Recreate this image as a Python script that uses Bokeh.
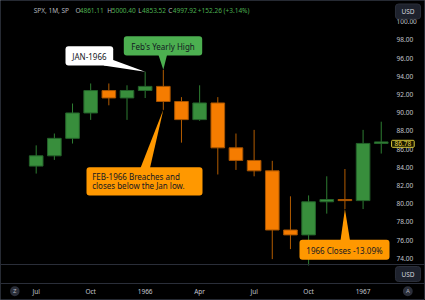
from bokeh.plotting import figure
from bokeh.models import FixedTicker, PrintfTickFormatter, Label, Span, Range1d
from bokeh.core.properties import value
from bokeh.embed import file_html
from bokeh.resources import INLINE

# ---------------- data (S&P 500 monthly, Jul 1965 - Feb 1967) ----------------
months = ["Jul 1965", "Aug 1965", "Sep 1965", "Oct 1965", "Nov 1965", "Dec 1965",
          "Jan 1966", "Feb 1966", "Mar 1966", "Apr 1966", "May 1966", "Jun 1966",
          "Jul 1966", "Aug 1966", "Sep 1966", "Oct 1966", "Nov 1966", "Dec 1966",
          "Jan 1967", "Feb 1967"]
opens = [84.12, 85.25, 87.17, 89.96, 92.42, 91.61, 92.43, 92.88, 91.22, 89.23,
         91.06, 86.13, 84.74, 83.60, 77.10, 76.56, 80.20, 80.45, 80.33, 86.61]
highs = [86.4, 87.7, 91.0, 93.2, 93.2, 93.0, 94.5, 94.7, 91.7, 93.0,
         91.7, 87.7, 88.1, 84.7, 80.8, 80.9, 83.0, 83.8, 88.1, 89.0]
lows = [83.3, 84.8, 86.6, 89.2, 90.8, 89.2, 91.6, 90.3, 86.7, 89.1,
        83.2, 83.7, 83.0, 73.9, 75.0, 73.2, 78.9, 79.4, 79.4, 85.5]
closes = [85.25, 87.17, 89.96, 92.42, 91.61, 92.43, 92.88, 91.22, 89.23, 91.06,
          86.13, 84.74, 83.60, 77.10, 76.56, 80.20, 80.45, 80.33, 86.61, 86.78]

x_tick_pos = [0, 3, 6, 9, 12, 15, 18]
x_tick_labels = ["Jul", "Oct", "1966", "Apr", "Jul", "Oct", "1967"]
y_ticks = [74, 76, 78, 80, 82, 84, 86, 88, 90, 92, 94, 96, 98, 100]

header_items = ["SPX, 1M, SP", "O", "4861.11", "H", "5000.40", "L", "4853.52",
                "C", "4997.92", "+152.26 (+3.14%)"]
last_price_text = "86.78"

# ---------------- layout helpers (pixel -> data) ----------------
PX0, PXM = 35.7, 18.16      # pixel of first candle, pixels per month
PY98, PYU = 39.3, 9.1       # pixel of price 98, pixels per price unit
W, H = 425, 300


def X(px):
    return (px - PX0) / PXM


def Y(py):
    return 98 - (py - PY98) / PYU


idx = list(range(len(months)))
up = [c >= o for o, c in zip(opens, closes)]
GREEN, GREEN_D = "#388e3c", "#24622a"
ORANGE, ORANGE_D = "#f57c00", "#a85400"
body_fill = [GREEN if u else ORANGE for u in up]
body_line = [GREEN_D if u else ORANGE_D for u in up]
wick_col = ["#2e7d32" if u else "#b35c00" for u in up]
tops = [max(o, c) for o, c in zip(opens, closes)]
bots = [min(o, c) for o, c in zip(opens, closes)]

p = figure(width=W, height=H, output_backend="svg", toolbar_location=None,
           x_range=Range1d(X(0), X(W)), y_range=Range1d(Y(H), Y(0)),
           y_axis_location="right", min_border=0,
           background_fill_color="#000000", border_fill_color="#000000",
           outline_line_color="#262a33", outline_line_width=1)
p.grid.visible = False

# axes drawn at fixed positions inside the full-canvas frame
ya = p.yaxis[0]
ya.fixed_location = X(392)
ya.ticker = FixedTicker(ticks=y_ticks)
ya.formatter = PrintfTickFormatter(format="%.2f")
ya.axis_line_color = None
ya.major_tick_line_color = None
ya.minor_tick_line_color = None
ya.major_tick_out = 0
ya.major_tick_in = 0
ya.major_label_standoff = 4
ya.major_label_text_font = "Noto Sans"
ya.major_label_text_font_size = "6.5px"
ya.major_label_text_color = "#c3c6ce"

xa = p.xaxis[0]
xa.fixed_location = Y(283)
xa.ticker = FixedTicker(ticks=x_tick_pos)
xa.major_label_overrides = {t: l for t, l in zip(x_tick_pos, x_tick_labels)}
xa.axis_line_color = "#2a2e39"
xa.major_tick_line_color = None
xa.minor_tick_line_color = None
xa.major_tick_out = 0
xa.major_tick_in = 0
xa.major_label_standoff = 3
xa.major_label_text_font = "Noto Sans"
xa.major_label_text_font_size = "6.5px"
xa.major_label_text_color = "#c3c6ce"

# pane separator
p.add_layout(Span(location=Y(264), dimension="width", line_color="#2a2e39", line_width=1))

# candles
p.segment(x0=idx, y0=lows, x1=idx, y1=highs, line_color=wick_col, line_width=1)
p.vbar(x=idx, width=0.75, top=tops, bottom=bots, fill_color=body_fill,
       line_color=body_line, line_width=1)

FONT = value("Noto Sans")

# --- callout: JAN-1966 (white) ---
jan = 6
p.patch([X(103), X(112.7), jan], [Y(65), Y(59.5), highs[jan]], fill_color="#ffffff",
        line_color=None)
p.quad(left=[X(65)], right=[X(112.7)], top=[Y(45.7)], bottom=[Y(65)],
       fill_color="#ffffff", line_color=None, border_radius=3)
p.text(x=[X(88.9)], y=[Y(55.5)], text=["JAN-1966"], text_align="center",
       text_baseline="middle", text_font=FONT, text_font_size="8px", text_color="#131722")

# --- callout: Feb's Yearly High (green) ---
feb = 7
p.patch([X(158), X(166.5), feb], [Y(54.5), Y(54.5), highs[feb]], fill_color="#4caf50",
        line_color=None)
p.quad(left=[X(123.3)], right=[X(201.7)], top=[Y(35.7)], bottom=[Y(55)],
       fill_color="#4caf50", line_color=None, border_radius=3)
p.text(x=[X(162.5)], y=[Y(45.5)], text=["Feb's Yearly High"], text_align="center",
       text_baseline="middle", text_font=FONT, text_font_size="8px", text_color="#131722")

# --- callout: FEB-1966 breaches (orange) ---
p.patch([X(140), X(149.5), feb], [Y(167.5), Y(167.5), lows[feb]], fill_color="#ff9800",
        line_color=None)
p.quad(left=[X(86)], right=[X(202)], top=[Y(166.7)], bottom=[Y(195)],
       fill_color="#ff9800", line_color=None, border_radius=3)
p.text(x=[X(91.7), X(91.7)], y=[Y(176), Y(185)],
       text=["FEB-1966 Breaches and", "closes below the Jan low."], text_align="left",
       text_baseline="middle", text_font=FONT, text_font_size="8px", text_color="#131722")

# --- callout: 1966 Closes (orange) ---
dec = 17
p.patch([X(340), X(349.5), dec], [Y(240), Y(240), lows[dec]], fill_color="#ff9800",
        line_color=None)
p.quad(left=[X(299)], right=[X(389)], top=[Y(239.3)], bottom=[Y(259.3)],
       fill_color="#ff9800", line_color=None, border_radius=3)
p.text(x=[X(344)], y=[Y(249.5)], text=["1966 Closes -13.09%"], text_align="center",
       text_baseline="middle", text_font=FONT, text_font_size="8px", text_color="#131722")

# --- header legend ---
hx = [33.3, 75, 79.2, 106.7, 111.2, 137.7, 141.5, 167.7, 172.2, 197.3]
hc = ["#b2b5be", "#b2b5be", "#4caf50", "#b2b5be", "#4caf50", "#b2b5be", "#4caf50",
      "#b2b5be", "#4caf50", "#4caf50"]
p.text(x=[X(v) for v in hx], y=[Y(10)] * len(hx), text=header_items, text_align="left",
       text_baseline="middle", text_font=FONT, text_font_size="6.5px", text_color=hc)

# --- price-scale widgets ---
p.add_layout(Label(x=X(402.4), y=Y(143.3), text=last_price_text, text_align="center",
                   text_baseline="middle", text_font="Noto Sans", text_font_size="6.5px",
                   text_color="#e8d84c", background_fill_color="#1c1a00",
                   border_line_color="#d8c83a", border_line_width=1, padding=(3, 1),
                   border_radius=1))
for py, txt in [(11, "USD"), (273.5, "USD")]:
    p.add_layout(Label(x=X(407.5), y=Y(py), text=txt, text_align="center",
                       text_baseline="middle", text_font="Noto Sans",
                       text_font_size="6.5px", text_color="#d1d4dc",
                       background_fill_color="#1e222d", border_line_color="#2a2e39",
                       border_line_width=1, padding=(6, 3), border_radius=3))
for px, txt in [(14.3, "Z"), (407.3, "A")]:
    p.add_layout(Label(x=X(px), y=Y(290.7), text=txt, text_align="center",
                       text_baseline="middle", text_font="Noto Sans",
                       text_font_size="6px", text_color="#b2b5be",
                       background_fill_color="#2a2e39", padding=(3, 1),
                       border_radius=5))

open("out.html", "w").write(file_html(p, INLINE))
